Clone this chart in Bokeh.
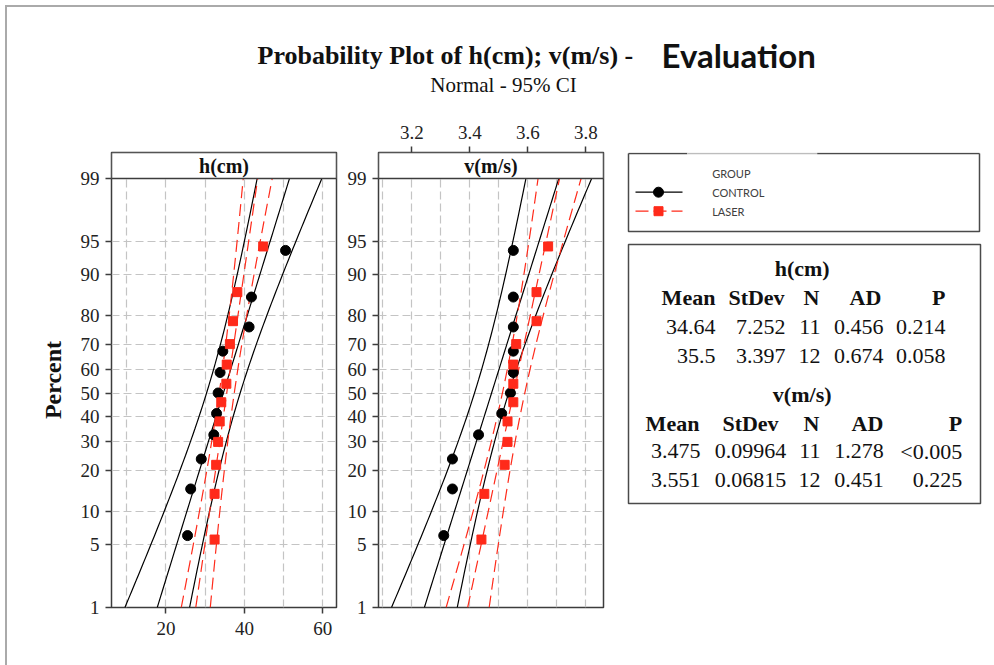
from statistics import NormalDist
import numpy as np
from bokeh.plotting import figure
from bokeh.layouts import row, column
from bokeh.models import Range1d, FixedTicker, Spacer
from bokeh.core.properties import value
from bokeh.embed import file_html
from bokeh.resources import INLINE

# ---------------- data ----------------
groups = ["CONTROL", "LASER"]
percent_ticks = [1, 5, 10, 20, 30, 40, 50, 60, 70, 80, 90, 95, 99]
h_ticks = [20, 40, 60]
h_grid = [10, 20, 30, 40, 50, 60]
v_ticks = [3.2, 3.4, 3.6, 3.8]
v_grid = [3.1, 3.2, 3.3, 3.4, 3.5, 3.6, 3.7, 3.8]

h_control = [25.5, 26.3, 29.0, 32.2, 32.9, 33.3, 33.8, 34.5, 41.2, 41.8, 50.5]
h_laser = [32.4, 32.4, 32.8, 33.3, 33.7, 34.1, 35.4, 35.5, 36.3, 37.1, 38.2, 44.8]
v_control = [3.31, 3.34, 3.34, 3.43, 3.51, 3.54, 3.55, 3.55, 3.55, 3.55, 3.55]
v_laser = [3.44, 3.45, 3.52, 3.53, 3.53, 3.55, 3.55, 3.55, 3.56, 3.63, 3.63, 3.67]
# plotting positions (percent)
pct_n11 = [6.1, 14.9, 23.7, 32.5, 41.2, 50.0, 58.8, 67.5, 76.3, 85.1, 93.9]
pct_n12 = [5.6, 13.7, 21.8, 29.8, 37.9, 46.0, 54.0, 62.1, 70.2, 78.2, 86.3, 94.4]

# summary table
h_mean = [34.64, 35.5]
h_sd = [7.252, 3.397]
h_n = [11, 12]
h_ad = [0.456, 0.674]
h_p = ["0.214", "0.058"]
v_mean = [3.475, 3.551]
v_sd = [0.09964, 0.06815]
v_n = [11, 12]
v_ad = [1.278, 0.451]
v_p = ["<0.005", "0.225"]

# ---------------- helpers ----------------
nd = NormalDist()
def zq(pc):
    return nd.inv_cdf(pc / 100.0)

ZLIM = zq(99)
ZTOP = ZLIM + 26 * (2 * ZLIM / 429.0)
Z975 = nd.inv_cdf(0.975)
zticks = [zq(pc) for pc in percent_ticks]
zlabels = {zv: str(pc) for zv, pc in zip(zticks, percent_ticks)}

SERIF = "Liberation Serif"
DARK = "#3c3c3c"
GRID = "#c4c4c4"
RED = "#ff2a1a"
BORDER = "#aaaaaa"
ROW_H = 557
MB_TOP = 44
MB_BOT = 58


def panel(name, xr, grid, ticks, series, means, sds, ns, width, mbl, mbr, loc, ylabel=None):
    p = figure(width=width, height=ROW_H, x_range=Range1d(*xr), y_range=Range1d(-ZLIM, ZTOP),
               output_backend="svg", toolbar_location=None, x_axis_location=loc,
               min_border_left=mbl, min_border_right=mbr, min_border_top=MB_TOP,
               min_border_bottom=MB_BOT,
               background_fill_color="white", border_fill_color="white")
    p.outline_line_color = DARK
    p.outline_line_width = 1.5
    p.xgrid.ticker = FixedTicker(ticks=grid)
    p.ygrid.ticker = FixedTicker(ticks=zticks)
    p.grid.grid_line_color = GRID
    p.grid.grid_line_dash = "8 4"
    p.grid.grid_line_width = 1.2

    for ax in (p.xaxis[0], p.yaxis[0]):
        ax.axis_line_color = None
        ax.major_tick_in = 0
        ax.major_tick_out = 6
        ax.minor_tick_out = 0
        ax.minor_tick_in = 0
        ax.major_tick_line_color = DARK
        ax.major_tick_line_width = 1.5
        ax.major_label_text_font = SERIF
        ax.major_label_text_font_size = "19px"
        ax.major_label_text_color = "#222222"
        ax.major_label_standoff = 6
    p.xaxis.major_label_standoff = 8
    p.xaxis.ticker = FixedTicker(ticks=ticks)
    p.yaxis.ticker = FixedTicker(ticks=zticks)
    p.yaxis.major_label_overrides = zlabels
    if ylabel:
        p.yaxis.axis_label = ylabel
        p.yaxis.axis_label_text_font = SERIF
        p.yaxis.axis_label_text_font_style = "bold"
        p.yaxis.axis_label_text_font_size = "24px"
        p.yaxis.axis_label_text_color = "#111111"
        p.yaxis.axis_label_standoff = 12

    zz = np.linspace(-ZLIM, ZLIM, 80)
    styles = [("black", None, "circle", 10), (RED, "12 6", "square", 9)]
    for (vals, pcts), m, s, n, (col, dash, mk, sz) in zip(series, means, sds, ns, styles):
        fit = m + s * zz
        half = Z975 * s * np.sqrt(1.0 / n + zz ** 2 / (2.0 * n))
        kw = dict(line_color=col, line_width=1.2)
        if dash:
            kw["line_dash"] = dash
        for xs in (fit - half, fit, fit + half):
            p.line(xs, zz, **kw)
    for (vals, pcts), (col, dash, mk, sz) in zip(series, styles):
        p.scatter(vals, [zq(pc) for pc in pcts], marker=mk, size=sz,
                  fill_color=col, line_color=col)

    # strip header
    p.quad(left=xr[0], right=xr[1], bottom=ZLIM, top=ZTOP, fill_color="white",
           line_color=DARK, line_width=1.5)
    p.text(x=[(xr[0] + xr[1]) / 2], y=[(ZLIM + ZTOP) / 2], text=[name],
           text_align="center", text_baseline="middle", text_font=value(SERIF),
           text_font_style="bold", text_font_size="20px", text_color="#111111")
    return p


def blank(width, height, xr, yr, fill="white", **kw):
    f = figure(width=width, height=height, x_range=Range1d(*xr), y_range=Range1d(*yr),
               x_axis_location=None, y_axis_location=None,
               toolbar_location=None, output_backend="svg", outline_line_color=None,
               background_fill_color=fill, border_fill_color=fill, **kw)
    f.grid.visible = False
    return f


def gray(w, h):
    return Spacer(width=w, height=h, styles={"background-color": BORDER})


p1 = panel("h(cm)", (6.1, 63.5), h_grid, h_ticks,
           [(h_control, pct_n11), (h_laser, pct_n12)], h_mean, h_sd, h_n,
           333, 104, 4, "below", ylabel="Percent")
p2 = panel("v(m/s)", (3.085, 3.861), v_grid, v_ticks,
           [(v_control, pct_n11), (v_laser, pct_n12)], v_mean, v_sd, v_n,
           278, 38, 15, "above")

# ---------------- title (page x 7..994, y 7..108) ----------------
pt = blank(987, 101, (7, 994), (108, 7), min_border=0)
pt.text(x=[257], y=[55], text=["Probability Plot of h(cm); v(m/s) -"], text_align="left",
        text_baseline="middle", text_font=value(SERIF), text_font_style="bold",
        text_font_size="26px", text_color="#111111")
pt.text(x=[661], y=[54], text=["Evaluation"], text_align="left", text_baseline="middle",
        text_font=value("Lato"), text_font_style="bold", text_font_size="33px",
        text_color="#111111")
pt.text(x=[503], y=[84], text=["Normal - 95% CI"], text_align="center", text_baseline="middle",
        text_font=value(SERIF), text_font_size="21px", text_color="#111111")

# ---------------- legend + table (frame spans page y 152..607) ----------------
pr = blank(376, ROW_H, (618, 994), (152 + 455, 152), min_border_left=0, min_border_right=0,
           min_border_top=MB_TOP, min_border_bottom=MB_BOT)
# legend box
pr.line([628, 686.7], [153, 153], line_color="#4a4a4a", line_width=1.5)
pr.line([686.7, 816.7], [153, 153], line_color="#bdbdbd", line_width=1.5)
pr.line([816.7, 979], [153, 153], line_color="#4a4a4a", line_width=1.5)
pr.line([628, 628, 979, 979], [153, 231, 231, 153], line_color="#4a4a4a", line_width=1.5)
pr.line([635, 682], [191.7, 191.7], line_color="black", line_width=1.2)
pr.scatter([658], [191.7], marker="circle", size=10, fill_color="black", line_color="black")
pr.line([635, 682], [210.7, 210.7], line_color=RED, line_width=1.2, line_dash="13 5")
pr.scatter([658], [210.7], marker="square", size=9, fill_color=RED, line_color=RED)
pr.text(x=[711.7] * 3, y=[173.3, 191.7, 210.7], text=["GROUP"] + groups,
        text_align="left", text_baseline="middle", text_font=value("Lato"),
        text_font_size="11px", text_color="#404040")

# stats table box
pr.quad(left=628, right=980, top=244, bottom=503, fill_color=None,
        line_color="#4a4a4a", line_width=1.5)

tkw = dict(text_baseline="middle", text_font=value(SERIF), text_font_size="22px",
           text_color="#111111")
headers = ["Mean", "StDev", "N", "AD", "P"]

def table_block(title, ty, hy, hcx, pright, rows_y, rights, means, sds, ns, ads, ps):
    pr.text(x=[801.7], y=[ty], text=[title], text_align="center", text_font_style="bold", **tkw)
    pr.text(x=hcx, y=[hy] * 4, text=headers[:4], text_align="center", text_font_style="bold", **tkw)
    pr.text(x=[pright], y=[hy], text=headers[4:], text_align="right", text_font_style="bold", **tkw)
    for i in range(2):
        vals = [str(means[i]), str(sds[i]), str(ns[i]), str(ads[i]), ps[i]]
        pr.text(x=rights, y=[rows_y[i]] * 5, text=vals, text_align="right", **tkw)

table_block("h(cm)", 268.3, 296.7, [688, 756, 811, 865], 945, [326, 355],
            [715, 785, 820, 883, 945], h_mean, h_sd, h_n, h_ad, h_p)
table_block("v(m/s)", 394, 422.7, [672, 750, 811, 867], 961.7, [450.7, 479.3],
            [700, 785.7, 820, 883.3, 961.7], v_mean, v_sd, v_n, v_ad, v_p)

layout = column(
    Spacer(width=994, height=5),
    row(Spacer(width=5, height=2), gray(989, 2)),
    row(Spacer(width=5, height=101), gray(2, 101), pt),
    row(Spacer(width=5, height=ROW_H), gray(2, ROW_H), p1, p2, pr),
)
open("out.html", "w").write(file_html(layout, INLINE))
